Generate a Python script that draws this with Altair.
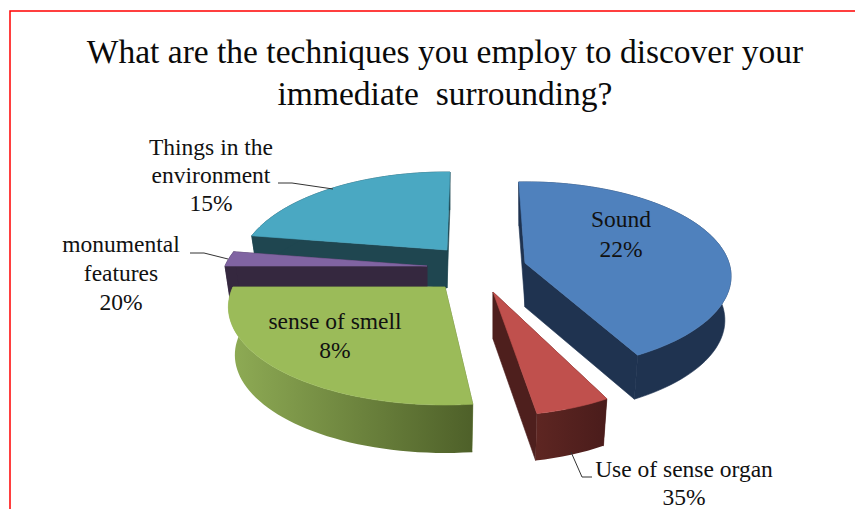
import math
import altair as alt
import pandas as pd

W, H = 847, 501
OX, OY = 8, 8  # page margin

categories = ["Sound", "Use of sense organ", "sense of smell", "monumental features", "Things in the environment"]
percent_labels = ["22%", "35%", "8%", "20%", "15%"]
# drawn slice sizes in degrees (they do not follow the printed labels)
slice_degrees = [153, 17.5, 96, 9, 82]
slice_gaps = [0, 1.5, 4, 0, 0]
first_angle = 92

top_colors = ["#4F81BD", "#C0504D", "#9BBB59", "#8064A2", "#4AA8C2"]
side_colors = ["#1F3350", "#4E1F1D", "#5F7536", "#35283F", "#1F4650"]
side_gradients = {
    1: ("#5E2622", "#4A1C1B"),
    2: ("#8FAC55", "#4E6029"),
}
# apex position on the page, horizontal and vertical stretch, depth, perspective of each wedge
layout = [
    (525, 263, 1.01, 1.04, 44, 0.14),
    (493, 292, 1.00, 1.05, 47, 0.204),
    (445, 287, 1.05, 1.00, 48, 0.204),
    (427, 266, 1.00, 1.00, 40, 0.204),
    (447, 250, 1.01, 1.00, 38, 0.204),
]
draw_order = [4, 3, 0, 1, 2]
RX = 202.0
BOTTOM_SHRINK = 0.97


def project(i, deg):
    cx, cy, sx, sy, _, k = layout[i]
    t = math.radians(deg)
    d = 1 + k * math.sin(t)
    ry = 78.0 * (1 + k)
    return (cx + sx * RX * math.cos(t) / d - OX, cy - sy * ry * math.sin(t) / d - OY)


def arc_points(i, start, end):
    n = max(2, int(abs(end - start) / 2) + 1)
    return [project(i, start + (end - start) * j / (n - 1)) for j in range(n)]


def feature(points):
    pts = [list(p) for p in points]
    pts.append(pts[0])
    return {"type": "Feature", "properties": {}, "geometry": {"type": "Polygon", "coordinates": [pts]}}


def shape_layer(features, fill):
    data = alt.Data(values={"type": "FeatureCollection", "features": features},
                    format=alt.DataFormat(type="json", property="features"))
    stroke = fill if isinstance(fill, str) else None
    kw = {"stroke": stroke, "strokeWidth": 0.6} if stroke else {}
    return alt.Chart(data).mark_geoshape(fill=fill, **kw).project(type="identity", scale=1, translate=[0, 0])


# cumulative angles
bounds = []
a = first_angle
for d, g in zip(slice_degrees, slice_gaps):
    a -= g
    bounds.append((a, a - d))
    a -= d

layers = []

xs = alt.X("x:Q", scale=alt.Scale(domain=[0, W], range=[0, W]), axis=None)
ys = alt.Y("y:Q", scale=alt.Scale(domain=[0, H], range=[0, H]), axis=None)

# red frame
frame = pd.DataFrame({"x": [W, 2, 2], "y": [3, 3, H], "o": [0, 1, 2]})
layers.append(alt.Chart(frame).mark_line(color="#FF0000", strokeWidth=1.5, clip=False).encode(x=xs, y=ys, order="o:Q"))

for i in draw_order:
    start, end = bounds[i]
    depth = layout[i][4]
    cx, cy = layout[i][0] - OX, layout[i][1] - OY
    arc = arc_points(i, start, end)

    def lower(p):
        return (cx + (p[0] - cx) * BOTTOM_SHRINK, p[1] + depth)

    # two cut faces
    cuts = []
    for p in (arc[0], arc[-1]):
        cuts.append(feature([(cx, cy), p, lower(p), (cx, cy + depth)]))
    layers.append(shape_layer(cuts, side_colors[i]))
    # outer rim
    rim = arc + [lower(p) for p in reversed(arc)]
    if i in side_gradients:
        c0, c1 = side_gradients[i]
        fill = alt.LinearGradient(gradient="linear", x1=0, x2=1, y1=0, y2=0,
                                  stops=[alt.GradientStop(offset=0, color=c0),
                                         alt.GradientStop(offset=1, color=c1)])
    else:
        fill = side_colors[i]
    layers.append(shape_layer([feature(rim)], fill))
    # top face
    layers.append(shape_layer([feature([(cx, cy)] + arc)], top_colors[i]))

# leader lines
leader_rows = []
for k, pts in enumerate([
    [(278, 183), (292, 183), (333, 189)],
    [(190, 253), (204, 253), (228, 259)],
    [(571, 452), (582, 477), (592, 477)],
]):
    for o, (px, py) in enumerate(pts):
        leader_rows.append({"x": px - OX, "y": py - OY, "k": k, "o": o})
layers.append(alt.Chart(pd.DataFrame(leader_rows)).mark_line(color="#333333", strokeWidth=1).encode(
    x=xs, y=ys, detail="k:N", order="o:Q"))

# title
title_lines = ["What are the techniques you employ to discover your", "immediate\u00a0\u00a0surrounding?"]
title_df = pd.DataFrame({"t": title_lines, "x": [445 - OX, 445 - OX], "y": [63 - OY, 105 - OY]})
layers.append(alt.Chart(title_df).mark_text(font="Liberation Serif", fontSize=33.5, color="#0A0A0A",
                                            align="center", baseline="alphabetic").encode(x=xs, y=ys, text="t:N"))

# data labels
label_rows = [
    ("Sound", 621, 227), (percent_labels[0], 621, 257),
    ("Use of sense organ", 684, 477), (percent_labels[1], 684, 505),
    ("sense of smell", 335, 329), (percent_labels[2], 335, 358),
    ("monumental", 121, 252), ("features", 121, 281), (percent_labels[3], 121, 310),
    ("Things in the", 211, 155), ("environment", 211, 183), (percent_labels[4], 211, 211),
]
label_df = pd.DataFrame([{"t": t, "x": x - OX, "y": y - OY} for t, x, y in label_rows])
layers.append(alt.Chart(label_df).mark_text(font="Liberation Serif", fontSize=23.5, color="#111111",
                                            align="center", baseline="alphabetic").encode(x=xs, y=ys, text="t:N"))

chart = alt.layer(*layers).properties(
    width=W, height=H, padding=0, background="white",
    autosize=alt.AutoSizeParams(type="none"),
).configure_view(stroke=None)

chart.save("out.html", embed_options={"renderer": "svg", "actions": False})
